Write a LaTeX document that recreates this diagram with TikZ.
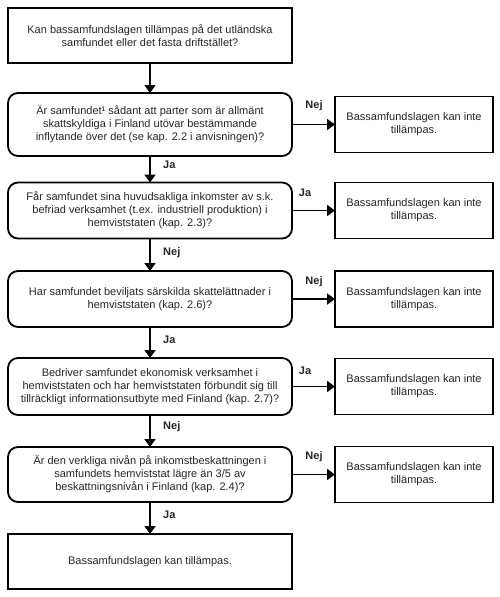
\documentclass[tikz,border=0pt]{standalone}
\usepackage{fontspec}
\setmainfont{Liberation Sans}
\usetikzlibrary{arrows.meta}
\begin{document}
\begin{tikzpicture}[x=1pt,y=-1pt,
  base/.style={draw=black, line width=1.8pt, align=center, inner sep=0pt, outer sep=0pt, font=\fontsize{11}{13}\selectfont, text=black!85},
  sqbox/.style={base, minimum width=284pt},
  qbox/.style={base, rounded corners=10pt, minimum width=284pt},
  rbox/.style={base, minimum width=158pt, minimum height=56pt},
  arr/.style={line width=1.8pt, -{Triangle[length=8pt,width=11pt]}},
  lab/.style={font=\bfseries\fontsize{11}{13}\selectfont, text=black!85, inner sep=0pt}
]
\useasboundingbox (0,0) rectangle (500,597);

\node[sqbox, minimum height=55pt] (top) at (150,35.5) {Kan bassamfundslagen tillämpas på det utländska\\samfundet eller det fasta driftstället?};
\node[qbox, minimum height=63pt] (q1) at (150,124.5) {Är samfundet¹ sådant att parter som är allmänt\\skattskyldiga i Finland utövar bestämmande\\inflytande över det (se kap. 2.2 i anvisningen)?};
\node[qbox, minimum height=56pt] (q2) at (150,210.5) {Får samfundet sina huvudsakliga inkomster av s.k.\\befriad verksamhet (t.ex. industriell produktion) i\\hemviststaten (kap. 2.3)?};
\node[qbox, minimum height=56pt] (q3) at (150,299) {Har samfundet beviljats särskilda skattelättnader i\\hemviststaten (kap. 2.6)?};
\node[qbox, minimum height=57pt] (q4) at (150,386.5) {Bedriver samfundet ekonomisk verksamhet i\\hemviststaten och har hemviststaten förbundit sig till\\tillräckligt informationsutbyte med Finland (kap. 2.7)?};
\node[qbox, minimum height=55pt] (q5) at (150,474.5) {Är den verkliga nivån på inkomstbeskattningen i\\samfundets hemviststat lägre än 3/5 av\\beskattningsnivån i Finland (kap. 2.4)?};
\node[sqbox, minimum height=55pt] (fin) at (150,561.5) {Bassamfundslagen kan tillämpas.};

\node[rbox] (r1) at (414,124.5) {Bassamfundslagen kan inte\\tillämpas.};
\node[rbox] (r2) at (414,210.5) {Bassamfundslagen kan inte\\tillämpas.};
\node[rbox] (r3) at (414,299) {Bassamfundslagen kan inte\\tillämpas.};
\node[rbox] (r4) at (414,386.5) {Bassamfundslagen kan inte\\tillämpas.};
\node[rbox] (r5) at (414,474.5) {Bassamfundslagen kan inte\\tillämpas.};

\draw[arr] (top) -- (q1);
\draw[arr] (q1) -- (q2);
\draw[arr] (q2) -- (q3);
\draw[arr] (q3) -- (q4);
\draw[arr] (q4) -- (q5);
\draw[arr] (q5) -- (fin);

\draw[arr] (q1) -- (r1);
\draw[arr] (q2) -- (r2);
\draw[arr] (q3) -- (r3);
\draw[arr] (q4) -- (r4);
\draw[arr] (q5) -- (r5);

\node[lab, anchor=west] (v1) at (163,165) {Ja};
\node[lab, anchor=west] (v2) at (163,253) {Nej};
\node[lab, anchor=west] (v3) at (163,340) {Ja};
\node[lab, anchor=west] (v4) at (163,427) {Nej};
\node[lab, anchor=west] (v5) at (163,515) {Ja};

\node[lab] (h1) at (314,106) {Nej};
\node[lab] (h2) at (305,193) {Ja};
\node[lab] (h3) at (314,282) {Nej};
\node[lab] (h4) at (305,371) {Ja};
\node[lab] (h5) at (314,457) {Nej};
\end{tikzpicture}
\end{document}
